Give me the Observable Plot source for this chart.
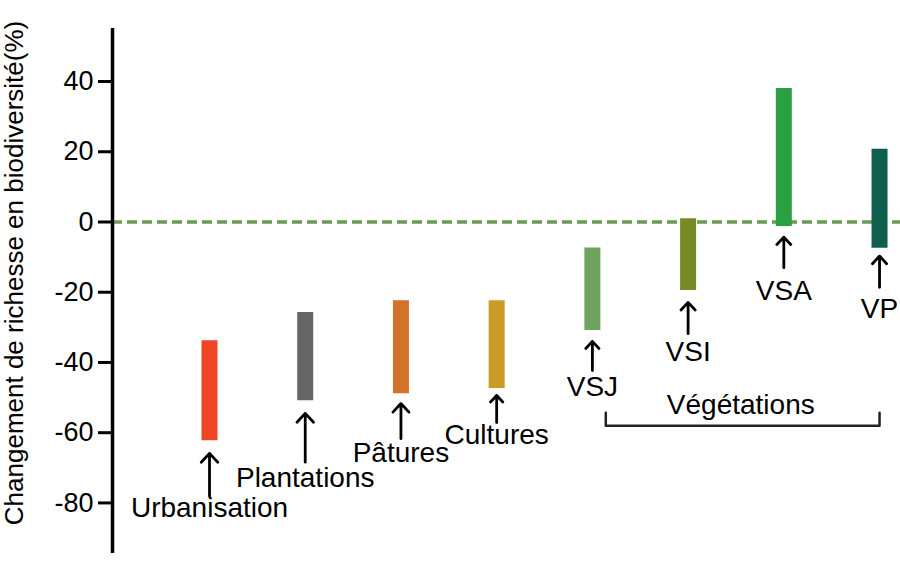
<!DOCTYPE html>
<html><head><meta charset="utf-8">
<script src="https://cdn.jsdelivr.net/npm/d3@7"></script>
<script src="https://cdn.jsdelivr.net/npm/@observablehq/plot@0.6"></script>
<style>html,body{margin:0;padding:0;background:#fff;}</style>
</head><body><div id="chart"></div>
<script>
// ---- data ----
const categories = ["Urbanisation","Plantations","Pâtures","Cultures","VSJ","VSI","VSA","VP"];
const barHigh   = [-33.8, -25.8, -22.4, -22.4,  -7.4,   0.9,  38.0,  20.7];
const barLow    = [-62.3, -50.9, -48.9, -47.4, -30.9, -19.5,  -1.3,  -7.5];
const arrowTip  = [-65.9, -54.5, -51.7, -49.4, -34.0, -22.9,  -4.3,  -9.7];
const arrowTail = [-78.2, -68.4, -61.7, -57.1, -42.3, -31.8, -13.0, -18.6];
const labelY    = [-81.5, -72.9, -65.8, -60.8, -46.9, -36.9, -19.8, -24.9];
const colors    = ["#ee4526","#656565","#d4712a","#c99c25","#6fa45e","#768b25","#2ba043","#0f5f4e"];
const yTicks = [40, 20, 0, -20, -40, -60, -80];
const yLabel = "Changement de richesse en biodiversité(%)";
const groupLabel = "Végétations";
const groupX = [4.14, 7];          // bracket span (category index units)
const groupY = [-54.3, -58.0];     // bracket top / bottom
const groupLabelPos = [5.55, -52.0];

const rows = categories.map((c, i) => ({
  cat: c, i, hi: barHigh[i], lo: barLow[i], tip: arrowTip[i], tail: arrowTail[i], ly: labelY[i], color: colors[i]
}));
const bracket = [
  {x: groupX[0], y: groupY[0]}, {x: groupX[0], y: groupY[1]},
  {x: groupX[1], y: groupY[1]}, {x: groupX[1], y: groupY[0]}
];
const xDomain = [-1.0135, 7.219];
const yDomain = [-94.4, 55.1];

const chart = Plot.plot({
  width: 900, height: 566,
  marginLeft: 112, marginRight: 0, marginTop: 28, marginBottom: 13,
  style: {fontFamily: "'Liberation Sans', Arial, sans-serif", fontSize: "27px", background: "white", color: "black"},
  x: {type: "linear", domain: xDomain, axis: null},
  y: {domain: yDomain, axis: null},
  marks: [
    Plot.ruleY([0], {stroke: "#6b9a53", strokeWidth: 3.5, strokeDasharray: "10,5"}),
    Plot.ruleX(rows, {x: "i", y1: "lo", y2: "hi", stroke: "color", strokeWidth: 16}),
    Plot.arrow(rows, {x: "i", y1: "tail", y2: "tip", stroke: "black", strokeWidth: 2.8, headLength: 6.5, headAngle: 86}),
    Plot.text(rows, {x: "i", y: "ly", text: "cat", fontSize: 28, fill: "black", lineAnchor: "middle"}),
    Plot.line(bracket, {x: "x", y: "y", stroke: "#222", strokeWidth: 2.5}),
    Plot.text([groupLabel], {x: () => groupLabelPos[0], y: () => groupLabelPos[1], text: d => d, fontSize: 28, fill: "black", lineAnchor: "middle"}),
    Plot.ruleX([xDomain[0]], {stroke: "black", strokeWidth: 3.5}),
    Plot.axisY({ticks: yTicks, tickFormat: d => String(d), tickSize: 14, tickPadding: 5, strokeWidth: 3, fontSize: 27, label: null}),
    Plot.text([yLabel], {frameAnchor: "left", text: d => d, rotate: -90, dx: -98, dy: -18, fontSize: 26, fill: "black", textAnchor: "middle", lineAnchor: "middle"})
  ]
});
document.getElementById("chart").appendChild(chart);
</script>
</body></html>
